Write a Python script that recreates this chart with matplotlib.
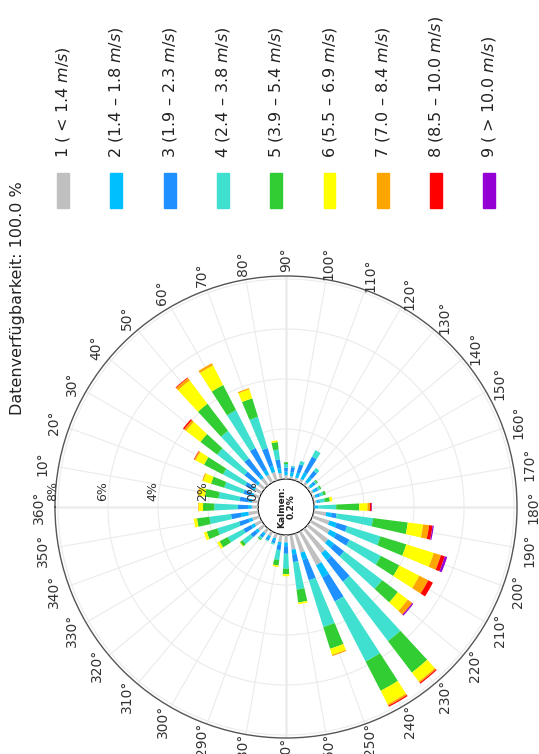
import matplotlib.pyplot as plt
import numpy as np
from matplotlib.patches import Rectangle
from matplotlib.transforms import ScaledTranslation

plt.rcParams['font.family'] = ['DejaVu Sans']
plt.rcParams['mathtext.fontset'] = 'custom'
plt.rcParams['mathtext.rm'] = 'DejaVu Sans'
plt.rcParams['mathtext.it'] = 'DejaVu Sans:italic'

# Windrichtungen (Grad) und Häufigkeiten (%) je Geschwindigkeitsklasse
directions = np.arange(0, 360, 10)

klasse_1 = [0.25, 0.25, 0.25, 0.30, 0.30, 0.35, 0.35, 0.35, 0.25,
            0.15, 0.12, 0.12, 0.15, 0.15, 0.12, 0.12, 0.12, 0.12,
            0.02, 0.50, 0.70, 0.85, 1.00, 1.20, 1.50, 0.80, 0.60,
            0.30, 0.30, 0.20, 0.20, 0.22, 0.30, 0.30, 0.30, 0.40]
klasse_2 = [0.15, 0.15, 0.12, 0.12, 0.12, 0.15, 0.20, 0.25, 0.20,
            0.15, 0.17, 0.20, 0.30, 0.25, 0.15, 0.12, 0.10, 0.08,
            0.15, 0.22, 0.30, 0.30, 0.30, 0.35, 0.55, 0.30, 0.20,
            0.15, 0.12, 0.10, 0.10, 0.10, 0.12, 0.15, 0.15, 0.30]
klasse_3 = [0.40, 0.35, 0.30, 0.30, 0.55, 0.83, 0.99, 0.75, 0.35,
            0.15, 0.20, 0.35, 0.70, 0.30, 0.10, 0.08, 0.08, 0.05,
            0.00, 0.20, 0.44, 0.59, 0.50, 1.08, 1.08, 0.85, 0.30,
            0.30, 0.20, 0.10, 0.08, 0.10, 0.25, 0.35, 0.40, 0.40]
klasse_4 = [0.95, 0.85, 0.80, 1.00, 1.37, 1.38, 1.70, 1.31, 0.40,
            0.15, 0.05, 0.14, 0.29, 0.15, 0.07, 0.10, 0.15, 0.20,
            0.72, 1.47, 1.40, 1.41, 1.91, 2.99, 2.70, 1.96, 1.11,
            0.60, 0.40, 0.06, 0.05, 0.08, 0.40, 0.70, 0.90, 0.87]
klasse_5 = [0.45, 0.55, 0.55, 0.85, 0.84, 1.36, 1.13, 0.77, 0.30,
            0.07, 0.00, 0.00, 0.00, 0.00, 0.05, 0.05, 0.10, 0.20,
            0.92, 1.40, 1.08, 0.83, 0.79, 1.58, 1.32, 0.91, 0.52,
            0.22, 0.22, 0.00, 0.00, 0.05, 0.12, 0.37, 0.45, 0.50]
klasse_6 = [0.18, 0.25, 0.33, 0.38, 0.72, 1.17, 0.88, 0.38, 0.07,
            0.00, 0.00, 0.00, 0.00, 0.00, 0.00, 0.00, 0.00, 0.10,
            0.33, 0.62, 1.15, 0.90, 0.50, 0.45, 0.60, 0.25, 0.07,
            0.08, 0.06, 0.00, 0.00, 0.00, 0.03, 0.10, 0.12, 0.13]
klasse_7 = [0.02, 0.04, 0.04, 0.06, 0.10, 0.12, 0.10, 0.05, 0.00,
            0.00, 0.00, 0.00, 0.00, 0.00, 0.00, 0.00, 0.00, 0.00,
            0.10, 0.24, 0.30, 0.40, 0.21, 0.06, 0.07, 0.05, 0.00,
            0.00, 0.00, 0.00, 0.00, 0.00, 0.00, 0.00, 0.00, 0.00]
klasse_8 = [0.00, 0.00, 0.00, 0.02, 0.06, 0.03, 0.00, 0.00, 0.00,
            0.00, 0.00, 0.00, 0.00, 0.00, 0.00, 0.00, 0.00, 0.00,
            0.06, 0.14, 0.16, 0.21, 0.02, 0.05, 0.05, 0.00, 0.00,
            0.00, 0.00, 0.00, 0.00, 0.00, 0.00, 0.00, 0.00, 0.00]
klasse_9 = [0.00, 0.00, 0.00, 0.00, 0.00, 0.00, 0.00, 0.00, 0.00,
            0.00, 0.00, 0.00, 0.00, 0.00, 0.00, 0.00, 0.00, 0.00,
            0.02, 0.05, 0.10, 0.00, 0.05, 0.00, 0.00, 0.00, 0.00,
            0.00, 0.00, 0.00, 0.00, 0.00, 0.00, 0.00, 0.00, 0.00]

klassen = [klasse_1, klasse_2, klasse_3, klasse_4, klasse_5,
           klasse_6, klasse_7, klasse_8, klasse_9]
klassen_labels = ["1 ( < 1.4 $m/s$)", "2 (1.4 – 1.8 $m/s$)", "3 (1.9 – 2.3 $m/s$)",
                  "4 (2.4 – 3.8 $m/s$)", "5 (3.9 – 5.4 $m/s$)", "6 (5.5 – 6.9 $m/s$)",
                  "7 (7.0 – 8.4 $m/s$)", "8 (8.5 – 10.0 $m/s$)", "9 ( > 10.0 $m/s$)"]
klassen_farben = ['#c0c0c0', '#00bfff', '#1e90ff', '#40e0d0', '#32cd32',
                  '#ffff00', '#ffa500', '#ff0000', '#9400d3']
r_ticks = [0, 2, 4, 6, 8]
kalmen = 0.2
verfuegbarkeit = 100.0

W, H = 539, 754
fig = plt.figure(figsize=(W / 100, H / 100), dpi=100)

# Polardiagramm (Mittelpunkt und Radius in Pixeln)
cx, cy, R, hole = 286, 507, 231, 28
r_max = 8.12
r0 = r_max * hole / (R - hole)
ax = fig.add_axes([(cx - R) / W, (H - cy - R) / H, 2 * R / W, 2 * R / H],
                  projection='polar')
ax.set_theta_zero_location('W')
ax.set_theta_direction(-1)
ax.set_ylim(0, r_max)
ax.set_rorigin(-r0)

theta = np.deg2rad(directions)
bottom = np.zeros(len(directions))
for werte, farbe in zip(klassen, klassen_farben):
    werte = np.array(werte)
    ax.bar(theta, werte, width=np.deg2rad(5.5), bottom=bottom, color=farbe,
           edgecolor='none', zorder=3)
    bottom += werte

ax.set_xticks(np.deg2rad(np.arange(0, 360, 10)))
ax.set_xticklabels([])
ax.set_yticks([2, 4, 6, 8])
ax.set_yticklabels([])
ax.grid(True, color='#ebebeb', linewidth=0.8)
for t in [0, 90, 180, 270]:
    ax.plot([np.deg2rad(t)] * 2, [0, r_max], color='#9a9a9a', linewidth=0.9, zorder=1)
ax.spines['polar'].set_color('#555555')
ax.spines['polar'].set_linewidth(1.0)
ax.spines['inner'].set_visible(False)
ax.tick_params(length=0)

# Winkelbeschriftung
r_lab = 247 / R * (r_max + r0) - r0
for t in range(10, 361, 10):
    ax.text(np.deg2rad(t), r_lab, f"{t}°", rotation=90, ha='center', va='center',
            fontsize=10, color='#333333', clip_on=False)

# Radiale Beschriftung entlang 0°
versatz = ax.transData + ScaledTranslation(-5 / 100, 16 / 100, fig.dpi_scale_trans)
for v in r_ticks:
    ax.text(0, v, f"{v}%", transform=versatz, rotation=90, ha='center', va='center',
            fontsize=9, color='#333333', zorder=5)

ax.text(0, -r0, f"Kalmen:\n{kalmen}%", rotation=90, ha='center', va='center',
        fontsize=6.5, fontweight='bold', color='#222222', linespacing=1.1, zorder=5)

fig.text(18 / W, 1 - 298 / H, f"Datenverfügbarkeit: {verfuegbarkeit} %", rotation=90,
         ha='center', va='center', fontsize=11.5, color='#222222')

# Legende
for i, (lab, farbe) in enumerate(zip(klassen_labels, klassen_farben)):
    x = 63 + i * 53.3
    fig.add_artist(Rectangle(((x - 6) / W, 1 - 208 / H), 12 / W, 35 / H,
                             transform=fig.transFigure, color=farbe))
    fig.text(x / W, 1 - 158 / H, lab, rotation=90, rotation_mode='anchor',
             ha='left', va='center', fontsize=11.5, color='#222222')

fig.savefig('out.png', dpi=100)
